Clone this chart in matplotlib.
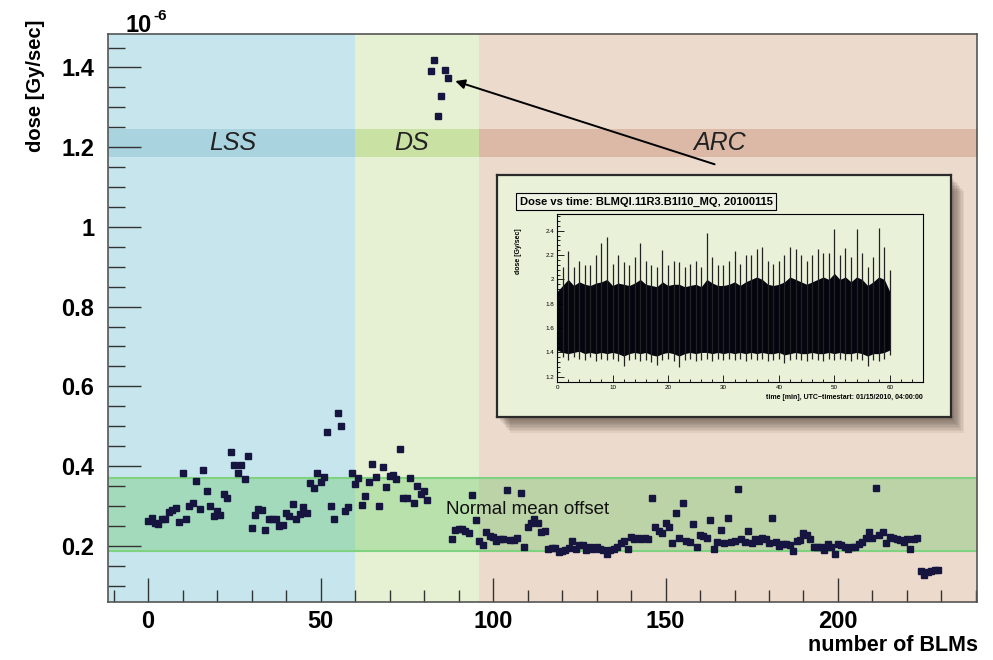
import numpy as np
import matplotlib
matplotlib.use('Agg')
import matplotlib.pyplot as plt
from matplotlib.patches import Rectangle

plt.rcParams['font.family'] = ['Liberation Sans', 'DejaVu Sans']

# dose per BLM [1e-6 Gy/sec]
dose = [0.262, 0.269, 0.258, 0.254, 0.266, 0.267, 0.285, 0.290, 0.295, 0.260,
        0.383, 0.266, 0.300, 0.308, 0.363, 0.292, 0.389, 0.337, 0.301, 0.275,
        0.288, 0.277, 0.330, 0.321, 0.436, 0.403, 0.382, 0.403, 0.367, 0.426,
        0.244, 0.277, 0.292, 0.291, 0.239, 0.268, 0.266, 0.266, 0.249, 0.252,
        0.281, 0.274, 0.306, 0.267, 0.280, 0.298, 0.283, 0.357, 0.344, 0.382,
        0.359, 0.373, 0.486, 0.301, 0.267, 0.534, 0.501, 0.287, 0.297, 0.382,
        0.354, 0.370, 0.303, 0.325, 0.359, 0.405, 0.372, 0.300, 0.397, 0.347,
        0.376, 0.377, 0.367, 0.443, 0.320, 0.319, 0.371, 0.308, 0.351, 0.329,
        0.337, 0.315, 1.391, 1.418, 1.278, 1.329, 1.394, 1.374, 0.216, 0.240,
        0.243, 0.242, 0.236, 0.232, 0.327, 0.265, 0.213, 0.203, 0.234, 0.224,
        0.221, 0.211, 0.217, 0.218, 0.341, 0.214, 0.215, 0.219, 0.333, 0.196,
        0.246, 0.256, 0.267, 0.257, 0.234, 0.236, 0.192, 0.194, 0.195, 0.184,
        0.187, 0.190, 0.195, 0.211, 0.191, 0.203, 0.203, 0.189, 0.196, 0.191,
        0.198, 0.192, 0.189, 0.179, 0.190, 0.193, 0.197, 0.206, 0.213, 0.193,
        0.223, 0.216, 0.219, 0.217, 0.219, 0.216, 0.320, 0.247, 0.237, 0.231,
        0.257, 0.247, 0.206, 0.281, 0.220, 0.307, 0.213, 0.209, 0.255, 0.198,
        0.228, 0.225, 0.220, 0.264, 0.192, 0.210, 0.239, 0.208, 0.269, 0.209,
        0.211, 0.342, 0.216, 0.210, 0.238, 0.206, 0.218, 0.212, 0.219, 0.218,
        0.206, 0.269, 0.209, 0.200, 0.204, 0.204, 0.201, 0.187, 0.213, 0.215,
        0.233, 0.226, 0.218, 0.197, 0.197, 0.196, 0.189, 0.204, 0.197, 0.179,
        0.204, 0.201, 0.197, 0.192, 0.196, 0.196, 0.204, 0.210, 0.219, 0.234,
        0.220, 0.345, 0.228, 0.234, 0.208, 0.223, 0.220, 0.218, 0.214, 0.209,
        0.218, 0.192, 0.216, 0.219, 0.137, 0.127, 0.134, 0.137, 0.138, 0.139]
blm = np.arange(len(dose))

# machine regions (BLM index)
region_names = ['LSS', 'DS', 'ARC']
region_edges = [-11.6, 60, 96, 240.3]
region_colors = ['#c6e5ec', '#e6f0d2', '#ecdacd']
label_band_colors = ['#a9d3df', '#c9e1a3', '#dcb9a7']
label_x = [24.6, 76.5, 165.8]
label_band = (1.175, 1.245)

normal_band = (0.187, 0.369)

# inset: one BLM vs time, per-minute extremes and dense core [1e-6 Gy/sec]
t_min = np.arange(61)
inset_hi = [2.00, 2.10, 2.23, 2.10, 2.15, 2.12, 2.12, 2.20, 2.30, 2.35,
            2.13, 2.20, 2.14, 2.12, 2.18, 2.30, 2.15, 2.12, 2.10, 2.24,
            2.12, 2.15, 2.14, 2.10, 2.13, 2.15, 2.10, 2.38, 2.18, 2.12,
            2.12, 2.15, 2.23, 2.13, 2.20, 2.20, 2.25, 2.27, 2.15, 2.13,
            2.15, 2.20, 2.27, 2.25, 2.20, 2.15, 2.20, 2.25, 2.22, 2.22,
            2.41, 2.20, 2.26, 2.18, 2.41, 2.22, 2.10, 2.18, 2.42, 2.27, 2.08]
inset_lo = [1.38, 1.36, 1.34, 1.36, 1.35, 1.34, 1.36, 1.33, 1.35, 1.34,
            1.35, 1.33, 1.29, 1.34, 1.35, 1.33, 1.34, 1.32, 1.30, 1.34,
            1.35, 1.33, 1.28, 1.34, 1.35, 1.33, 1.34, 1.35, 1.33, 1.35,
            1.34, 1.35, 1.34, 1.35, 1.33, 1.35, 1.34, 1.35, 1.33, 1.34,
            1.35, 1.31, 1.34, 1.35, 1.34, 1.33, 1.35, 1.34, 1.33, 1.35,
            1.34, 1.35, 1.34, 1.33, 1.35, 1.34, 1.29, 1.34, 1.33, 1.35, 1.38]
core_hi = [1.90, 1.95, 2.00, 1.95, 1.98, 1.96, 1.95, 1.97, 1.98, 2.00,
           1.95, 1.97, 1.96, 1.95, 1.97, 2.00, 1.96, 1.95, 1.94, 1.98,
           1.95, 1.96, 1.96, 1.94, 1.95, 1.96, 1.94, 2.00, 1.97, 1.95,
           1.95, 1.96, 1.98, 1.95, 1.98, 2.00, 2.02, 2.00, 1.96, 1.95,
           1.96, 1.98, 2.02, 2.00, 1.98, 1.96, 1.98, 2.00, 2.02, 2.00,
           2.05, 2.00, 2.02, 1.98, 2.02, 2.00, 1.95, 1.98, 2.02, 2.00, 1.90]
core_lo = [1.42, 1.40, 1.39, 1.40, 1.41, 1.39, 1.40, 1.39, 1.40, 1.39,
           1.40, 1.39, 1.37, 1.39, 1.40, 1.39, 1.40, 1.38, 1.37, 1.39,
           1.40, 1.39, 1.37, 1.39, 1.40, 1.39, 1.40, 1.40, 1.39, 1.40,
           1.39, 1.40, 1.39, 1.40, 1.39, 1.40, 1.39, 1.40, 1.39, 1.39,
           1.40, 1.38, 1.39, 1.40, 1.39, 1.39, 1.40, 1.39, 1.39, 1.40,
           1.39, 1.40, 1.39, 1.39, 1.40, 1.39, 1.37, 1.39, 1.39, 1.40, 1.42]

fig = plt.figure(figsize=(9.93, 6.6), dpi=100)
ax = fig.add_axes([0.1088, 0.0879, 0.8751, 0.8606])

for i in range(3):
    ax.axvspan(region_edges[i], region_edges[i + 1], color=region_colors[i], lw=0, zorder=0)
    ax.fill_between([region_edges[i], region_edges[i + 1]], label_band[0], label_band[1],
                    color=label_band_colors[i], lw=0, zorder=1)
    ax.text(label_x[i], sum(label_band) / 2, region_names[i], style='italic', fontsize=18,
            color='#222222', ha='center', va='center', zorder=2)

ax.axhspan(normal_band[0], normal_band[1], color='#5cc45c', alpha=0.33, lw=0, zorder=1)
ax.axhline(normal_band[0], color='#7fd27f', lw=1.5, zorder=1)
ax.axhline(normal_band[1], color='#7fd27f', lw=1.5, zorder=1)
ax.text(86.5, 0.29, 'Normal mean offset', fontsize=13.5, color='#111111', va='center', zorder=2)

ax.plot(blm, dose, 's', color='#151540', ms=3.8, zorder=5)

ax.annotate('', xy=(88.3, 1.368), xytext=(165, 1.155),
            arrowprops=dict(arrowstyle='-|>', color='black', lw=1.4, mutation_scale=14), zorder=6)

ax.set_xlim(region_edges[0], region_edges[-1])
ax.set_ylim(0.059, 1.484)
ax.set_xticks([0, 50, 100, 150, 200])
ax.set_xticks(np.arange(-10, 241, 10), minor=True)
ax.set_yticks([0.2, 0.4, 0.6, 0.8, 1.0, 1.2, 1.4])
ax.set_yticklabels(['0.2', '0.4', '0.6', '0.8', '1', '1.2', '1.4'])
ax.set_yticks(np.arange(0.1, 1.48, 0.05), minor=True)
ax.tick_params(axis='both', which='both', direction='in', color='#333333')
ax.tick_params(axis='y', which='major', length=24, width=1, labelsize=17, pad=10)
ax.tick_params(axis='y', which='minor', length=12, width=1)
ax.tick_params(axis='x', which='major', length=17, width=1, labelsize=17, pad=6)
ax.tick_params(axis='x', which='minor', length=9, width=1)
for lab in ax.get_xticklabels() + ax.get_yticklabels():
    lab.set_fontweight('bold')
for s in ax.spines.values():
    s.set_color('#555555')
    s.set_linewidth(1.2)

fig.text(0.985, 0.006, 'number of BLMs', fontsize=15.5, fontweight='bold', ha='right', va='bottom')
fig.text(0.036, 0.97, 'dose [Gy/sec]', fontsize=14.5, fontweight='bold', rotation=90,
         ha='center', va='top')
fig.text(0.126, 0.952, '10', fontsize=17, fontweight='bold', ha='left', va='baseline')
fig.text(0.154, 0.970, '-6', fontsize=11, fontweight='bold', ha='left', va='baseline')

# inset panel with shadow
px0, py0, pw, ph = 0.5005, 0.3682, 0.4572, 0.3666
for k in range(10):
    fig.add_artist(Rectangle((px0 + 0.002 + k * 0.0012, py0 - 0.004 - k * 0.0022), pw, ph,
                             transform=fig.transFigure, fc='#3a2a20', ec='none',
                             alpha=0.07, zorder=2))
pax = fig.add_axes([px0, py0, pw, ph])
pax.set_zorder(3)
pax.set_facecolor('#e9f1d9')
pax.set_xticks([])
pax.set_yticks([])
for s in pax.spines.values():
    s.set_color('#2a2a2a')
    s.set_linewidth(1.6)

iax = fig.add_axes([0.561, 0.4212, 0.3686, 0.2545])
iax.set_zorder(4)
iax.set_facecolor('#e9f1d9')
iax.vlines(t_min, inset_lo, inset_hi, color='#222222', lw=0.9)
iax.fill_between(t_min, core_lo, core_hi, color='#05050f', lw=0)
iax.set_xlim(0, 66)
iax.set_ylim(1.157, 2.537)
iax.set_xticks(np.arange(0, 61, 10))
iax.set_xticks(np.arange(0, 66, 2), minor=True)
iax.set_yticks([1.2, 1.4, 1.6, 1.8, 2.0, 2.2, 2.4])
iax.set_yticklabels(['1.2', '1.4', '1.6', '1.8', '2', '2.2', '2.4'])
iax.set_yticks(np.arange(1.2, 2.54, 0.04), minor=True)
iax.tick_params(which='both', direction='in', labelsize=4.5, pad=2, width=0.6)
iax.tick_params(which='major', length=5)
iax.tick_params(which='minor', length=2.5)
for s in iax.spines.values():
    s.set_linewidth(0.8)
iax.set_ylabel('dose [Gy/sec]', fontsize=5, fontweight='bold', labelpad=3)
iax.yaxis.set_label_coords(-0.095, 0.78)
iax.set_xlabel('time [min], UTC\u2212timestart: 01/15/2010, 04:00:00', fontsize=5,
               fontweight='bold', labelpad=2)
iax.xaxis.set_label_coords(1.0, -0.07)
iax.xaxis.label.set_horizontalalignment('right')
iax.text(0.0, 1.0, '$10^{-6}$', transform=iax.transAxes, fontsize=4, va='bottom')

fig.text(0.6505, 0.6947, 'Dose vs time: BLMQI.11R3.B1I10_MQ, 20100115', fontsize=8,
         fontweight='bold', ha='center', va='center', zorder=5,
         bbox=dict(boxstyle='square,pad=0.3', fc='#eef2e4', ec='black', lw=0.8))

fig.savefig('out.png', dpi=100)
